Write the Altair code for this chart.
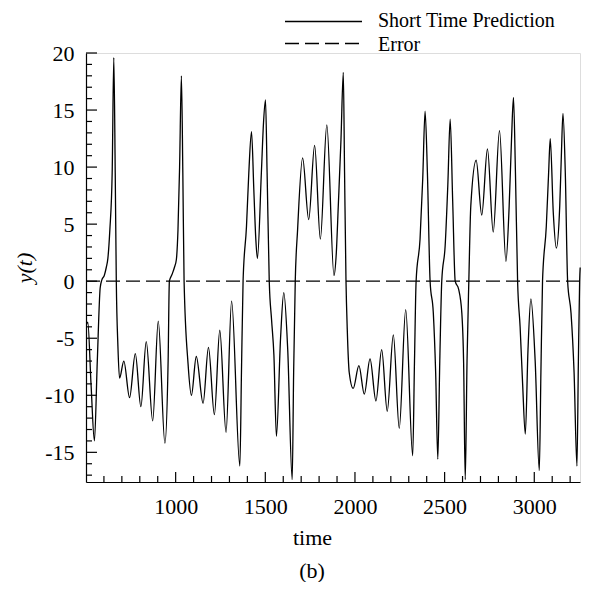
import altair as alt
import pandas as pd

FONT = "Liberation Serif"

series_names = ["Short Time Prediction", "Error"]

time = [503, 510, 528, 547, 563, 579, 588, 602, 613, 622, 633, 646, 655, 663, 669, 678, 687,
        711, 743, 775, 806, 836, 872, 903, 940, 958, 965, 980, 993, 1004, 1013, 1022, 1032, 1040, 1047,
        1069, 1088, 1115, 1153, 1183, 1216, 1246, 1281, 1312, 1358, 1367, 1376, 1395, 1408, 1423,
        1436, 1447, 1456, 1478, 1490, 1501, 1510, 1522, 1535, 1548, 1562, 1585, 1603, 1625, 1650,
        1658, 1667, 1680, 1708, 1742, 1775, 1807, 1843, 1883, 1896, 1907, 1922, 1935, 1942, 1950,
        1957, 1968, 1990, 2022, 2052, 2084, 2117, 2149, 2180, 2214, 2247, 2283, 2322, 2332, 2341,
        2363, 2378, 2391, 2404, 2419, 2437, 2450, 2462, 2473, 2484, 2503, 2518, 2531, 2545, 2559,
        2578, 2596, 2606, 2615, 2625, 2635, 2646, 2676, 2707, 2739, 2771, 2806, 2842, 2860, 2873,
        2884, 2895, 2907, 2921, 2935, 2950, 2965, 2981, 3005, 3028, 3037, 3046, 3067, 3080, 3089,
        3106, 3123, 3142, 3151, 3160, 3173, 3186, 3205, 3222, 3238, 3246, 3253, 3256]

values = [-3.8, -3.6, -9.0, -14.0, -7.0, -0.6, 0.1, 0.5, 1.2, 2.0, 4.5, 9.5, 19.6, 9.5, 0.0, -5.7, -8.5,
          -7.0, -10.2, -6.35, -11.0, -5.3, -12.25, -3.5, -14.2, -7.0, 0.0, 0.6, 1.2, 1.9, 4.5, 10.0, 18.0, 9.5, 0.0,
          -7.2, -10.0, -6.6, -10.7, -5.8, -11.7, -4.3, -13.25, -1.75, -16.2, -8.0, 0.0, 4.8, 9.5, 13.1,
          8.0, 3.7, 2.0, 9.5, 13.9, 15.9, 9.5, 0.0, -3.4, -6.5, -13.6, -5.0, -1.0, -6.0, -17.4,
          -8.0, 0.0, 4.5, 10.8, 5.4, 11.9, 3.7, 13.7, 0.5, 2.5, 6.6, 12.4, 18.3, 9.5, 0.0,
          -4.2, -8.0, -9.4, -7.4, -9.9, -6.8, -10.5, -6.0, -11.4, -4.7, -12.9, -2.5, -15.3, -7.0, 0.0,
          3.7, 9.0, 14.9, 9.5, 0.0, -2.8, -8.0, -15.6, -7.0, 0.0, 3.1, 8.5, 14.2, 7.0, 0.0,
          -0.7, -2.8, -7.2, -17.4, -7.0, 0.0, 6.6, 10.6, 5.8, 11.6, 4.3, 13.2, 1.75, 6.6, 12.4,
          16.1, 9.5, 0.0, -4.0, -9.0, -13.4, -6.0, -1.55, -7.0, -16.6, -8.0, 0.0, 4.8, 9.5, 12.5,
          6.0, 2.9, 6.6, 11.0, 14.7, 9.5, 0.0, -2.8, -8.0, -16.2, -7.0, 0.0, 1.2]

error_time = [500, 3255]
error_values = [0.0, 0.0]

x_domain = [500, 3255]
y_domain = [-17.6, 20]
x_labels = [1000, 1500, 2000, 2500, 3000]
x_minor = [t for t in range(600, 3300, 100) if t % 500 != 0]
y_labels = [-15, -10, -5, 0, 5, 10, 15, 20]
y_minor = [v for v in range(-17, 20) if v % 5 != 0]

W, H = 494, 429
DASH = [14, 6]

df_pred = pd.DataFrame({"time": time, "value": values})
df_err = pd.DataFrame({"time": error_time, "value": error_values})

xscale = alt.Scale(domain=x_domain, nice=False, zero=False)
yscale = alt.Scale(domain=y_domain, nice=False, zero=False)

xaxis = alt.Axis(values=x_labels, title="time", tickSize=0, labelPadding=14,
                 labelFont=FONT, labelFontSize=22, labelColor="black",
                 titleFont=FONT, titleFontSize=22, titleFontWeight="normal", titleColor="black",
                 titlePadding=10, titleX=226, domainColor="black", domainWidth=1.2, grid=False,
                 labelExpr="datum.value + ''")
yaxis = alt.Axis(values=y_labels, title="y(t)", tickSize=0, labelPadding=12,
                 labelFont=FONT, labelFontSize=22, labelColor="black",
                 titleFont=FONT, titleFontSize=22, titleFontWeight="normal", titleFontStyle="italic",
                 titleColor="black", titlePadding=8, domainColor="black", domainWidth=1.2, grid=False,
                 labelExpr="datum.value + ''")

pred = alt.Chart(df_pred).mark_line(color="black", strokeWidth=1.3, interpolate="monotone").encode(
    x=alt.X("time:Q", scale=xscale, axis=xaxis),
    y=alt.Y("value:Q", scale=yscale, axis=yaxis),
)
err = alt.Chart(df_err).mark_line(color="black", strokeWidth=1.2, strokeDash=DASH).encode(
    x=alt.X("time:Q"),
    y=alt.Y("value:Q"),
)

xt_major = alt.Chart(pd.DataFrame({"time": x_labels})).mark_rule(color="black", strokeWidth=1.2).encode(
    x=alt.X("time:Q"), y=alt.value(H), y2=alt.value(H - 10))
xt_minor = alt.Chart(pd.DataFrame({"time": x_minor})).mark_rule(color="black", strokeWidth=1.2).encode(
    x=alt.X("time:Q"), y=alt.value(H), y2=alt.value(H - 6))
yt_major = alt.Chart(pd.DataFrame({"value": y_labels})).mark_rule(color="black", strokeWidth=1.2).encode(
    y=alt.Y("value:Q"), x=alt.value(0), x2=alt.value(11))
yt_minor = alt.Chart(pd.DataFrame({"value": y_minor})).mark_rule(color="black", strokeWidth=1.2).encode(
    y=alt.Y("value:Q"), x=alt.value(0), x2=alt.value(6))

one = pd.DataFrame({"a": [0]})
leg_line_y = [-31.5, -9.5]
leg_text_y = [-32.5, -8.5]
legend_layers = []
for i, name in enumerate(series_names):
    dash = [1, 0] if i == 0 else DASH
    legend_layers.append(
        alt.Chart(one).mark_rule(color="black", strokeWidth=1.3, strokeDash=dash).encode(
            x=alt.value(199), x2=alt.value(276), y=alt.value(leg_line_y[i])))
    legend_layers.append(
        alt.Chart(one).mark_text(font=FONT, fontSize=20, color="black", align="left", baseline="middle").encode(
            x=alt.value(292), y=alt.value(leg_text_y[i]), text=alt.value(name)))

caption = alt.Chart(one).mark_text(font=FONT, fontSize=22, color="black", align="center", baseline="middle").encode(
    x=alt.value(226), y=alt.value(518), text=alt.value("(b)"))

chart = alt.layer(pred, err, xt_major, xt_minor, yt_major, yt_minor, caption, *legend_layers).properties(
    width=W, height=H,
    padding={"left": 78, "top": 45, "right": 2, "bottom": 100},
    autosize=alt.AutoSizeParams(type="none"),
).configure_view(stroke=None).configure(background="white")

chart.save("out.html", embed_options={"renderer": "svg", "actions": False})
